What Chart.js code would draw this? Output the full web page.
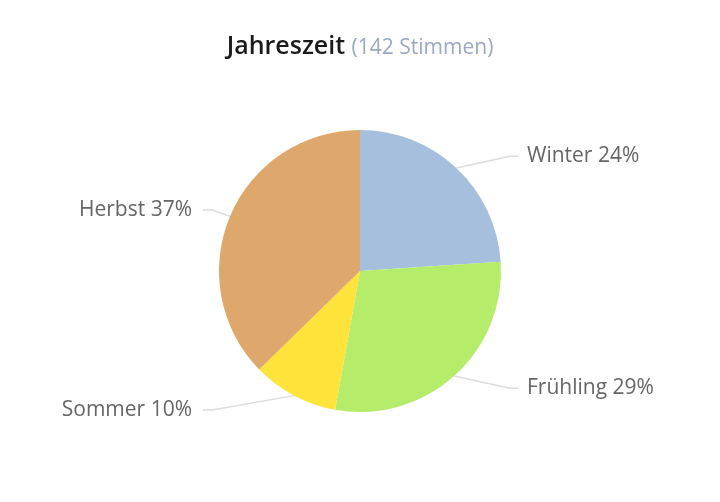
<!DOCTYPE html>
<html>
<head>
<meta charset="utf-8">
<script src="https://cdn.jsdelivr.net/npm/chart.js@4"></script>
<style>
    html, body { margin: 0; padding: 0; background: #fff; }
    #wrap { width: 720px; height: 502px; position: relative; }
</style>
</head>
<body>
<div id="wrap"><canvas id="pieChart" width="720" height="502"></canvas></div>
<script>
// Data
const titleText = 'Jahreszeit';
const subtitleText = '(142 Stimmen)';
const seasons = ['Winter', 'Frühling', 'Sommer', 'Herbst'];
const votes = [34, 41, 14, 53];
const sliceColors = ['#a5bfdd', '#b5ed6a', '#fde33a', '#dea76b'];

const FONT = '"Open Sans", "Noto Sans", sans-serif';

// Title with two styles
const titlePlugin = {
    id: 'mixedTitle',
    afterDraw(chart) {
        const ctx = chart.ctx;
        ctx.save();
        ctx.textBaseline = 'alphabetic';
        ctx.font = '600 25px ' + FONT;
        const w1 = ctx.measureText(titleText + ' ').width;
        ctx.font = '400 21px ' + FONT;
        const w2 = ctx.measureText(subtitleText).width;
        let x = chart.width / 2 - (w1 + w2) / 2;
        ctx.font = '600 25px ' + FONT;
        ctx.fillStyle = '#1a1a1a';
        ctx.fillText(titleText, x, 54);
        ctx.font = '400 21px ' + FONT;
        ctx.fillStyle = '#9aa8c2';
        ctx.fillText(subtitleText, x + w1, 54);
        ctx.restore();
    }
};

// Outside labels with leader lines
const labelPlugin = {
    id: 'outsideLabels',
    afterDatasetsDraw(chart) {
        const ctx = chart.ctx;
        const meta = chart.getDatasetMeta(0);
        const total = votes.reduce((a, b) => a + b, 0);
        ctx.save();
        ctx.font = '400 21px ' + FONT;
        ctx.textBaseline = 'middle';
        meta.data.forEach((arc, i) => {
            const p = arc.getProps(['x', 'y', 'startAngle', 'endAngle', 'outerRadius'], true);
            const mid = (p.startAngle + p.endAngle) / 2;
            const cos = Math.cos(mid), sin = Math.sin(mid);
            const right = cos >= 0;
            const ex = p.x + p.outerRadius * cos;
            const ey = p.y + p.outerRadius * sin;
            const ly = p.y + p.outerRadius * 1.115 * sin;
            const kx = p.x + (right ? 150 : -148);
            const endX = p.x + (right ? 158 : -157);
            ctx.strokeStyle = '#dcdcdc';
            ctx.lineWidth = 1.5;
            ctx.beginPath();
            ctx.moveTo(ex, ey);
            ctx.lineTo(kx, ly);
            ctx.lineTo(endX, ly);
            ctx.stroke();
            const pct = Math.round(votes[i] / total * 100);
            ctx.fillStyle = '#666';
            ctx.textAlign = right ? 'left' : 'right';
            ctx.fillText(seasons[i] + ' ' + pct + '%', p.x + (right ? 167 : -168), ly);
        });
        ctx.restore();
    }
};

new Chart(document.getElementById('pieChart').getContext('2d'), {
    type: 'pie',
    data: {
        labels: seasons,
        datasets: [{
            data: votes,
            backgroundColor: sliceColors,
            borderWidth: 0
        }]
    },
    options: {
        responsive: false,
        animation: false,
        layout: {
            padding: { top: 130, bottom: 90, left: 200, right: 200 }
        },
        plugins: {
            legend: { display: false },
            title: { display: false },
            tooltip: { enabled: false }
        }
    },
    plugins: [titlePlugin, labelPlugin]
});
</script>
</body>
</html>
